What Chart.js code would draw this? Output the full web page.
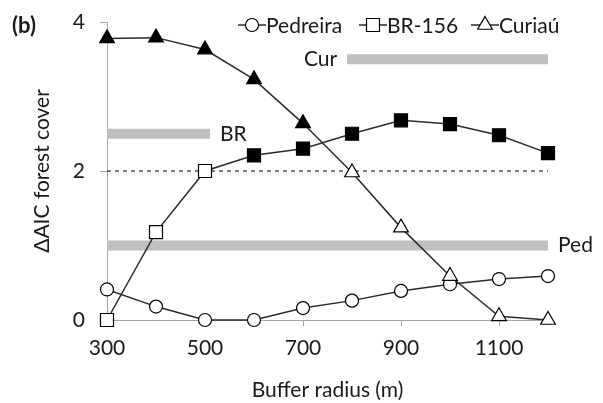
<!DOCTYPE html>
<html>
<head>
<meta charset="utf-8">
<script src="https://cdn.jsdelivr.net/npm/chart.js@4.4.0/dist/chart.umd.min.js"></script>
<style>
  html, body { margin: 0; padding: 0; background: #fff; }
  #wrap { width: 603px; height: 403px; }
</style>
</head>
<body>
<div id="wrap"><canvas id="chart"></canvas></div>
<script>
// data
const radius = [300, 400, 500, 600, 700, 800, 900, 1000, 1100, 1200];
const pedreira = [0.41, 0.18, 0.00, 0.00, 0.16, 0.26, 0.39, 0.48, 0.55, 0.59];
const br156 = [0.00, 1.18, 2.00, 2.21, 2.30, 2.50, 2.68, 2.63, 2.48, 2.24];
const curiau = [3.78, 3.79, 3.63, 3.23, 2.64, 1.98, 1.24, 0.59, 0.05, 0.00];
const xTicks = [300, 500, 700, 900, 1100];
const yTicks = [0, 2, 4];
const threshold = 2;

// grey range bars
const rangeLabels = ['Cur', 'BR', 'Ped'];
const rangeY = [3.5, 2.5, 1.0];
const rangeFrom = [790, 300, 300];
const rangeTo = [1200, 510, 1200];

const FONT = 'Lato, "Open Sans", sans-serif';
const INK = '#1a1a1a';

function pts(ys) {
    return radius.map((x, i) => ({ x: x, y: ys[i] }));
}

// filled marker when above the threshold
function fills(ys) {
    return ys.map(v => v > threshold ? '#000' : '#fff');
}

const datasets = [];

rangeLabels.forEach((lab, i) => {
    datasets.push({
        label: lab,
        data: [{ x: rangeFrom[i], y: rangeY[i] }, { x: rangeTo[i], y: rangeY[i] }],
        borderColor: '#bfbfbf',
        borderWidth: 10,
        borderCapStyle: 'butt',
        pointRadius: 0,
        order: 10
    });
});

datasets.push({
    label: 'threshold',
    data: [{ x: 300, y: threshold }, { x: 1200, y: threshold }],
    borderColor: '#000',
    borderWidth: 1,
    borderDash: [4, 4],
    pointRadius: 0,
    order: 9
});

const seriesDefs = [
    { label: 'Pedreira', ys: pedreira, style: 'circle', r: 6.5 },
    { label: 'BR-156', ys: br156, style: 'rect', r: 9.2 },
    { label: 'Curiaú', ys: curiau, style: 'triangle', r: 8.5 }
];

seriesDefs.forEach((s, i) => {
    datasets.push({
        label: s.label,
        data: pts(s.ys),
        borderColor: '#2b2b2b',
        borderWidth: 1.5,
        pointStyle: s.style,
        pointRadius: s.r,
        pointHoverRadius: s.r,
        pointBorderColor: '#000',
        pointBorderWidth: 1.2,
        pointBackgroundColor: fills(s.ys),
        clip: false,
        order: 3 - i
    });
});

// labels next to the grey bars, legend, panel letter
const annotate = {
    id: 'annotate',
    afterDraw(chart) {
        const ctx = chart.ctx;
        const xs = chart.scales.x, ys = chart.scales.y;
        ctx.save();
        ctx.fillStyle = INK;
        ctx.font = '21px ' + FONT;
        ctx.textBaseline = 'middle';
        // Cur sits left of its bar, others right
        rangeLabels.forEach((lab, i) => {
            const y = ys.getPixelForValue(rangeY[i]);
            if (lab === 'Cur') {
                ctx.textAlign = 'right';
                ctx.fillText(lab, xs.getPixelForValue(rangeFrom[i]) - 10, y);
            } else {
                ctx.textAlign = 'left';
                ctx.fillText(lab, xs.getPixelForValue(rangeTo[i]) + 10, y);
            }
        });

        // legend
        const legX = [252, 373, 485];
        const legY = 25;
        ctx.textAlign = 'left';
        seriesDefs.forEach((s, i) => {
            ctx.strokeStyle = '#2b2b2b';
            ctx.lineWidth = 1.5;
            ctx.beginPath();
            ctx.moveTo(legX[i] - 14, legY);
            ctx.lineTo(legX[i] + 14, legY);
            ctx.stroke();
            ctx.fillStyle = '#fff';
            ctx.strokeStyle = '#000';
            ctx.lineWidth = 1.2;
            Chart.helpers.drawPoint(ctx, { pointStyle: s.style, radius: s.r, borderWidth: 1.2 }, legX[i], legY);
            ctx.fillStyle = INK;
            ctx.fillText(s.label, legX[i] + 14, legY + 1);
        });

        ctx.font = 'bold 22px ' + FONT;
        ctx.fillText('(b)', 12, 26);
        ctx.restore();
    }
};

new Chart(document.getElementById('chart'), {
    type: 'line',
    data: { datasets: datasets },
    options: {
        responsive: true,
        maintainAspectRatio: false,
        animation: false,
        layout: { padding: { left: 30, right: 55, top: 22, bottom: 0 } },
        plugins: {
            legend: { display: false },
            tooltip: { enabled: false }
        },
        scales: {
            x: {
                type: 'linear',
                min: 300,
                max: 1200,
                afterBuildTicks(scale) {
                    scale.ticks = xTicks.map(v => ({ value: v }));
                },
                afterFit(scale) {
                    scale.height = 83;
                    scale.paddingLeft = 0;
                    scale.paddingRight = 0;
                },
                grid: { drawOnChartArea: false, drawTicks: true, tickLength: 6, color: '#a6a6a6' },
                border: { color: '#a6a6a6', width: 1 },
                ticks: {
                    color: INK,
                    font: { family: FONT, size: 21 },
                    padding: 10,
                    maxRotation: 0,
                    callback: v => String(v)
                },
                title: {
                    display: true,
                    text: 'Buffer radius (m)',
                    color: INK,
                    font: { family: FONT, size: 21 },
                    padding: { top: 4, bottom: 0 }
                }
            },
            y: {
                min: 0,
                max: 4,
                afterBuildTicks(scale) {
                    scale.ticks = yTicks.map(v => ({ value: v }));
                },
                afterFit(scale) {
                    scale.width = 77;
                    scale.paddingTop = 0;
                    scale.paddingBottom = 0;
                },
                grid: { drawOnChartArea: false, drawTicks: true, tickLength: 7, color: '#a6a6a6' },
                border: { color: '#a6a6a6', width: 1 },
                ticks: { color: INK, font: { family: FONT, size: 21 }, padding: 15 },
                title: {
                    display: true,
                    text: 'ΔAIC forest cover',
                    color: INK,
                    font: { family: FONT, size: 21 },
                    padding: { top: 0, bottom: 8 }
                }
            }
        }
    },
    plugins: [annotate]
});
</script>
</body>
</html>
